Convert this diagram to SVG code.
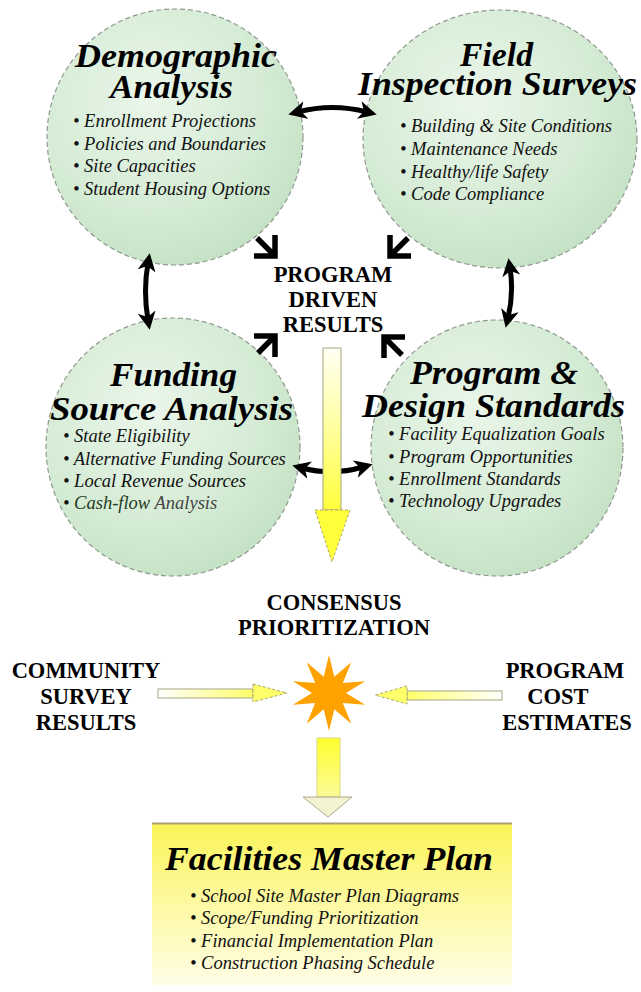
<svg xmlns="http://www.w3.org/2000/svg" width="641" height="992" viewBox="0 0 641 992">
<defs>
<style>
.circ{fill:url(#cg);stroke:#8f998f;stroke-width:1.2;stroke-dasharray:5 3}
.ttl{font-family:"Liberation Serif","Times New Roman",serif;font-weight:bold;font-style:italic;font-size:33px;fill:#000;text-anchor:middle}
.bul{font-family:"Liberation Serif","Times New Roman",serif;font-style:italic;font-size:18.5px;fill:#111}
.lbl{font-family:"Liberation Serif","Times New Roman",serif;font-weight:bold;font-size:22.5px;fill:#000;text-anchor:middle}
.dbl{fill:none;stroke:#000;stroke-width:5;marker-start:url(#ah);marker-end:url(#ah)}
.chev{fill:none;stroke:#000;stroke-width:5.5;stroke-linejoin:miter;stroke-linecap:butt}
.yhead{stroke:#a9a970;stroke-width:1;stroke-dasharray:3 2}
.yshaft{stroke:#a5a585;stroke-width:1}
</style>
<radialGradient id="cg" cx="0.4" cy="0.35" r="0.7">
<stop offset="0" stop-color="#eaf6ea"/>
<stop offset="0.6" stop-color="#d6ecd6"/>
<stop offset="1" stop-color="#c4e1c4"/>
</radialGradient>
<linearGradient id="ysv" x1="0" y1="0" x2="0" y2="1">
<stop offset="0" stop-color="#fffff4"/>
<stop offset="0.5" stop-color="#ffff9e"/>
<stop offset="1" stop-color="#ffff3c"/>
</linearGradient>
<linearGradient id="ysb" x1="0" y1="0" x2="0" y2="1">
<stop offset="0" stop-color="#ffff2e"/>
<stop offset="1" stop-color="#fbfb98"/>
</linearGradient>
<linearGradient id="ysl" x1="0" y1="0" x2="1" y2="0">
<stop offset="0" stop-color="#ffffff"/>
<stop offset="1" stop-color="#ffff6a"/>
</linearGradient>
<linearGradient id="ysr" x1="0" y1="0" x2="1" y2="0">
<stop offset="0" stop-color="#ffff6a"/>
<stop offset="1" stop-color="#ffffff"/>
</linearGradient>
<linearGradient id="box" x1="0" y1="0" x2="0" y2="1">
<stop offset="0" stop-color="#faf456"/>
<stop offset="0.45" stop-color="#fdf99c"/>
<stop offset="1" stop-color="#fffde6"/>
</linearGradient>
<marker id="ah" markerUnits="userSpaceOnUse" markerWidth="20" markerHeight="20" viewBox="0 0 20 20" refX="8" refY="10" orient="auto-start-reverse">
<path d="M0,1 L18,10 L0,19 L5,10 z" fill="#000"/>
</marker>
</defs>
<rect width="641" height="992" fill="#fff"/>

<g id="n-demographic">
<ellipse class="circ" cx="175" cy="137" rx="128" ry="128"/>
<text class="ttl" x="176" y="67" textLength="202" lengthAdjust="spacingAndGlyphs">Demographic</text>
<text class="ttl" x="171.5" y="98" textLength="123" lengthAdjust="spacingAndGlyphs">Analysis</text>
<text class="bul" x="73" y="127">• Enrollment Projections</text>
<text class="bul" x="73" y="150">• Policies and Boundaries</text>
<text class="bul" x="73" y="172">• Site Capacities</text>
<text class="bul" x="73" y="195">• Student Housing Options</text>
</g>

<g id="n-field">
<ellipse class="circ" cx="500" cy="139" rx="137" ry="129"/>
<text class="ttl" x="496.5" y="66" textLength="73" lengthAdjust="spacingAndGlyphs">Field</text>
<text class="ttl" x="497.5" y="95" textLength="279" lengthAdjust="spacingAndGlyphs">Inspection Surveys</text>
<text class="bul" x="400" y="132">• Building &amp; Site Conditions</text>
<text class="bul" x="400" y="155">• Maintenance Needs</text>
<text class="bul" x="400" y="178">• Healthy/life Safety</text>
<text class="bul" x="400" y="200">• Code Compliance</text>
</g>

<g id="n-funding">
<ellipse class="circ" cx="173" cy="447" rx="127" ry="129"/>
<text class="ttl" x="173.5" y="386" textLength="127" lengthAdjust="spacingAndGlyphs">Funding</text>
<text class="ttl" x="171.5" y="420" textLength="243" lengthAdjust="spacingAndGlyphs">Source Analysis</text>
<text class="bul" x="63" y="442">• State Eligibility</text>
<text class="bul" x="63" y="465">• Alternative Funding Sources</text>
<text class="bul" x="63" y="487">• Local Revenue Sources</text>
<text class="bul" x="63" y="509">• <tspan fill="#1f3a22">Cash-flow</tspan> <tspan fill="#444">Analysis</tspan></text>
</g>

<g id="n-program">
<ellipse class="circ" cx="497" cy="448" rx="126" ry="128"/>
<text class="ttl" x="494" y="384" textLength="168" lengthAdjust="spacingAndGlyphs">Program &amp;</text>
<text class="ttl" x="493.5" y="417" textLength="263" lengthAdjust="spacingAndGlyphs">Design Standards</text>
<text class="bul" x="388" y="440">• Facility Equalization Goals</text>
<text class="bul" x="388" y="463">• Program Opportunities</text>
<text class="bul" x="388" y="485">• Enrollment Standards</text>
<text class="bul" x="388" y="507">• Technology Upgrades</text>
</g>

<g id="n-results">
<text class="lbl" x="333" y="282" font-size="22">PROGRAM</text>
<text class="lbl" x="333" y="307" font-size="22">DRIVEN</text>
<text class="lbl" x="333" y="332" font-size="22">RESULTS</text>
</g>

<g id="connectors">
<path class="dbl" d="M298,112 Q332,103 367,112"/>
<path class="dbl" d="M148,263 Q143,291 148,320"/>
<path class="dbl" d="M510,268 Q514,293 508,318"/>
<path class="dbl" d="M302,468 Q332,476 363,467"/>
<path class="chev" d="M257,238 L275,256 M275,235 L275,256 L254,256"/>
<path class="chev" d="M408,238 L390,256 M390,235 L390,256 L411,256"/>
<path class="chev" d="M258,353 L275,336 M254,336 L275,336 L275,357"/>
<path class="chev" d="M402,355 L384,337 M405,337 L384,337 L384,358"/>
<rect class="yshaft" x="323" y="348" width="18" height="162" fill="url(#ysv)"/>
<polygon class="yhead" points="315,510 350,510 332,562" fill="#ffff3c"/>
<rect class="yshaft" x="158" y="689" width="95" height="9" fill="url(#ysl)"/>
<polygon class="yhead" points="253,684 287,693 253,702" fill="#ffff6a"/>
<rect class="yshaft" x="407" y="691" width="95" height="9" fill="url(#ysr)"/>
<polygon class="yhead" points="407,686 375,695 407,704" fill="#ffff6a"/>
<rect x="317" y="738" width="23" height="59" fill="url(#ysb)" stroke="#d8d880" stroke-width="1"/>
<polygon points="303,797 352,797 328,817" fill="#f3f3cf" stroke="#a9a98a" stroke-width="1"/>
</g>

<g id="n-consensus">
<text class="lbl" x="334" y="610">CONSENSUS</text>
<text class="lbl" x="334" y="635">PRIORITIZATION</text>
</g>

<g id="n-community">
<text class="lbl" x="86" y="678" font-size="23">COMMUNITY</text>
<text class="lbl" x="86" y="704" font-size="23">SURVEY</text>
<text class="lbl" x="86" y="730" font-size="23">RESULTS</text>
</g>

<g id="n-cost">
<text class="lbl" x="565" y="678" font-size="23">PROGRAM</text>
<text class="lbl" x="558" y="704" font-size="23">COST</text>
<text class="lbl" x="567" y="730" font-size="23">ESTIMATES</text>
</g>

<g id="n-star">
<polygon fill="#ffa200" points="329,655 334.3,676.8 351.3,662.3 342.8,683 365.1,681.3 346,693 365.1,704.7 342.8,703 351.3,723.7 334.3,709.2 329,731 323.7,709.2 306.7,723.7 315.2,703 292.9,704.7 312,693 292.9,681.3 315.2,683 306.7,662.3 323.7,676.8"/>
</g>

<g id="n-plan">
<rect x="152" y="823" width="360" height="162" fill="url(#box)"/>
<line x1="152" y1="823.5" x2="512" y2="823.5" stroke="#a8a070" stroke-width="2"/>
<text class="ttl" x="329" y="870" font-size="37" textLength="328" lengthAdjust="spacingAndGlyphs">Facilities Master Plan</text>
<text class="bul" x="190" y="902" font-size="19">• School Site Master Plan Diagrams</text>
<text class="bul" x="190" y="924" font-size="19">• Scope/Funding Prioritization</text>
<text class="bul" x="190" y="947" font-size="19">• Financial Implementation Plan</text>
<text class="bul" x="190" y="969" font-size="19">• Construction Phasing Schedule</text>
</g>
</svg>
